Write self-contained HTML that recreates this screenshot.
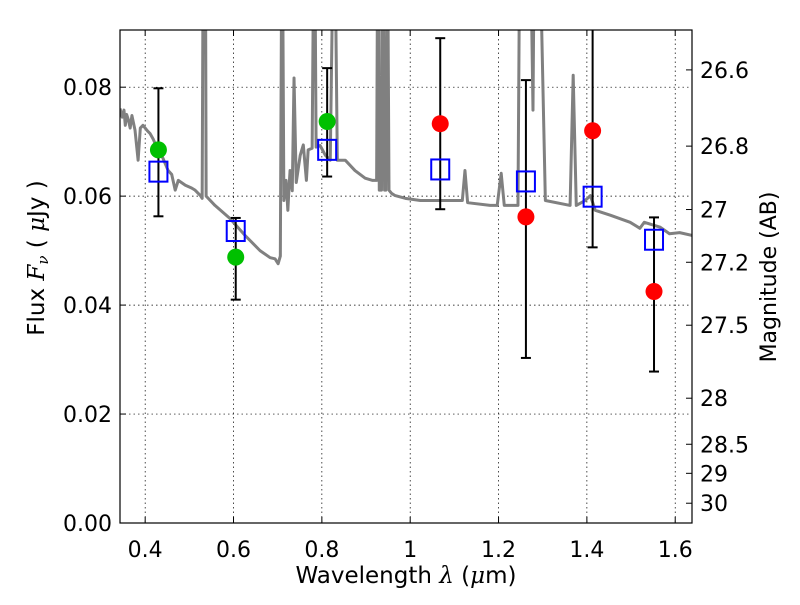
<!DOCTYPE html>
<html><head><meta charset="utf-8"><style>
body{margin:0;background:#fff}
svg text{font-family:"DejaVu Sans","Liberation Sans",sans-serif;fill:#000}
</style></head><body>
<svg id="c" width="800" height="600" xmlns="http://www.w3.org/2000/svg"></svg>
<script>
const specLam=[0.343,0.348,0.352,0.355,0.358,0.362,0.366,0.370,0.377,0.384,0.389,0.395,0.40,0.405,0.411,0.418,0.427,0.440,0.452,0.460,0.468,0.475,0.491,0.505,0.513,0.525,0.529,0.532,0.536,0.538,0.558,0.592,0.626,0.660,0.683,0.694,0.701,0.706,0.710,0.714,0.719,0.723,0.726,0.728,0.733,0.737,0.742,0.751,0.758,0.765,0.769,0.778,0.783,0.787,0.796,0.808,0.819,0.828,0.835,0.853,0.875,0.898,0.914,0.924,0.927,0.930,0.935,0.937,0.942,0.945,0.948,0.952,0.958,0.966,0.989,1.023,1.07,1.118,1.124,1.130,1.181,1.197,1.206,1.213,1.244,1.249,1.270,1.278,1.282,1.290,1.306,1.362,1.369,1.376,1.396,1.408,1.419,1.453,1.498,1.520,1.530,1.566,1.587,1.610,1.638];
const specFlux=[0.0761,0.0745,0.0758,0.0730,0.0750,0.0740,0.0725,0.0748,0.0721,0.0666,0.0725,0.0730,0.0725,0.0720,0.0715,0.0705,0.0688,0.0670,0.0647,0.0640,0.0611,0.0629,0.0620,0.0615,0.0611,0.0601,0.0596,0.12,0.12,0.0600,0.0583,0.0559,0.0528,0.0500,0.0487,0.0485,0.0476,0.0490,0.12,0.0592,0.0629,0.0574,0.0620,0.0647,0.0610,0.0817,0.0625,0.0675,0.0694,0.0629,0.0685,0.0688,0.12,0.0690,0.0693,0.0675,0.0666,0.12,0.0666,0.0666,0.0647,0.0633,0.0629,0.0629,0.12,0.0611,0.0611,0.12,0.0611,0.0611,0.12,0.0611,0.0605,0.0601,0.0596,0.0592,0.0592,0.0592,0.0647,0.0588,0.0583,0.0583,0.0642,0.0583,0.0583,0.12,0.12,0.0758,0.12,0.12,0.0592,0.0583,0.0822,0.0583,0.0592,0.0601,0.0574,0.0565,0.0552,0.0541,0.0552,0.0543,0.0531,0.0533,0.0528];
const greenLam=[0.43,0.605,0.812];
const greenFlux=[0.0685,0.0488,0.0737];
const redLam=[1.068,1.262,1.413,1.552];
const redFlux=[0.0733,0.0562,0.0720,0.0425];
const boxLam=[0.43,0.605,0.812,1.068,1.262,1.413,1.552];
const boxFlux=[0.0645,0.0536,0.0685,0.0649,0.0627,0.0599,0.0520];
const errLo=[0.0563,0.0410,0.0636,0.0576,0.0303,0.0506,0.0278];
const errHi=[0.0798,0.0560,0.0835,0.0890,0.0813,0.1200,0.0561];
const xTicks=[0.4,0.6,0.8,1.0,1.2,1.4,1.6];
const xTickLabels=["0.4","0.6","0.8","1","1.2","1.4","1.6"];
const yTicks=[0,0.02,0.04,0.06,0.08];
const yTickLabels=["0.00","0.02","0.04","0.06","0.08"];
const magTicks=[26.6,26.8,27,27.2,27.5,28,28.5,29,30];
const magTickLabels=["26.6","26.8","27","27.2","27.5","28","28.5","29","30"];

const L=120,R=692,T=30,B=523,X0=0.343,X1=1.638,Y0=0,Y1=0.0905;
const sx=v=>L+(v-X0)/(X1-X0)*(R-L);
const sy=v=>B-(v-Y0)/(Y1-Y0)*(B-T);
const NS="http://www.w3.org/2000/svg";
const svg=document.getElementById('c');
function mk(tag,attrs,parent){const e=document.createElementNS(NS,tag);for(const k in attrs)e.setAttribute(k,attrs[k]);(parent||svg).appendChild(e);return e;}
const defs=mk('defs',{});
const cp=mk('clipPath',{id:'clip'},defs);mk('rect',{x:L,y:T,width:R-L,height:B-T},cp);
const grid=mk('g',{});


xTicks.forEach((t,i)=>{const x=sx(t);
 mk('line',{x1:x,x2:x,y1:T,y2:B,stroke:'#000','stroke-width':0.7,'stroke-dasharray':'1.5,3'},grid);
 mk('line',{x1:x,x2:x,y1:B,y2:B-6,stroke:'#000'},grid);
 mk('line',{x1:x,x2:x,y1:T,y2:T+6,stroke:'#000'},grid);
 const tx=mk('text',{x:x,y:B+34,'font-size':22,'text-anchor':'middle'});tx.textContent=xTickLabels[i];
 
 
});
yTicks.forEach((t,i)=>{const y=sy(t);
 if(t>0)mk('line',{x1:L,x2:R,y1:y,y2:y,stroke:'#000','stroke-width':0.7,'stroke-dasharray':'1.5,3'},grid);
 mk('line',{x1:L,x2:L+6,y1:y,y2:y,stroke:'#000'},grid);
 const tx=mk('text',{x:L-8,y:y+8,'font-size':22,'text-anchor':'end'});tx.textContent=yTickLabels[i];
 
 
});
magTicks.forEach((m,i)=>{const f=Math.pow(10,(23.9-m)/2.5);const y=sy(f);
 mk('line',{x1:R,x2:R-6,y1:y,y2:y,stroke:'#000'},grid);
 const tx=mk('text',{x:R+8,y:y+8,'font-size':22});tx.textContent=magTickLabels[i];
 
 
});
const g=mk('g',{'clip-path':'url(#clip)'});
const sp=mk('polyline',{points:specLam.map((l,i)=>sx(l)+','+sy(specFlux[i])).join(' '),fill:'none',stroke:'#808080','stroke-width':3,'stroke-linejoin':'round'},g);


boxLam.forEach((l,i)=>{const x=sx(l);
 const e=mk('g',{},g);
 
 
 mk('line',{x1:x,x2:x,y1:sy(errLo[i]),y2:sy(errHi[i]),stroke:'#000','stroke-width':2},e);
 mk('line',{x1:x-5,x2:x+5,y1:sy(errLo[i]),y2:sy(errLo[i]),stroke:'#000','stroke-width':2},e);
 mk('line',{x1:x-5,x2:x+5,y1:sy(errHi[i]),y2:sy(errHi[i]),stroke:'#000','stroke-width':2},e);
});
greenLam.forEach((l,i)=>{const c=mk('circle',{cx:sx(l),cy:sy(greenFlux[i]),r:8.5,fill:'#00c000'},g);
 
 });
redLam.forEach((l,i)=>{const c=mk('circle',{cx:sx(l),cy:sy(redFlux[i]),r:8.5,fill:'#ff0000'},g);
 
 });
boxLam.forEach((l,i)=>{const r=mk('rect',{x:sx(l)-9,y:sy(boxFlux[i])-10,width:18,height:20,fill:'none',stroke:'#0000ff','stroke-width':2},g);
 
 });
const fr=mk('rect',{x:L,y:T,width:R-L,height:B-T,fill:'none',stroke:'#000','stroke-width':1.2});


</script>
<svg width="800" height="600" style="position:absolute;left:0;top:0">
<text x="406" y="583" font-size="23" text-anchor="middle" style="font-family:'DejaVu Sans',sans-serif">Wavelength  <tspan font-style="italic" font-family="DejaVu Serif">λ</tspan> (<tspan font-style="italic" font-family="DejaVu Serif">μ</tspan>m)</text>
<text transform="translate(44,258) rotate(-90)" font-size="23" text-anchor="middle" style="font-family:'DejaVu Sans',sans-serif">Flux  <tspan font-style="italic" font-family="DejaVu Serif">F</tspan><tspan font-style="italic" font-family="DejaVu Serif" font-size="15" dy="4">ν</tspan><tspan dy="-4">  (  </tspan><tspan font-style="italic" font-family="DejaVu Serif">μ</tspan>Jy )</text>
<text transform="translate(776,277) rotate(-90)" font-size="22" text-anchor="middle" style="font-family:'DejaVu Sans',sans-serif">Magnitude (AB)</text>
</svg>
</body></html>
